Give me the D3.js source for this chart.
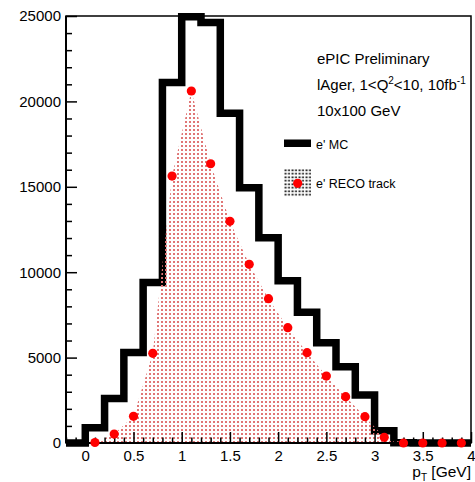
<!DOCTYPE html>
<html>
<head>
<meta charset="utf-8">
<script src="https://cdn.jsdelivr.net/npm/d3@7"></script>
<style>
  html, body { margin: 0; padding: 0; background: #fff; }
  svg { display: block; font-family: "Liberation Sans", Arial, Helvetica, sans-serif; }
</style>
</head>
<body>
<svg id="chart" width="475" height="482"></svg>
<script>
// ---- data ----
const binEdges = [-0.2, 0.0, 0.2, 0.4, 0.6, 0.8, 1.0, 1.2, 1.4, 1.6, 1.8, 2.0, 2.2, 2.4, 2.6, 2.8, 3.0, 3.2, 3.4, 3.6, 3.8, 4.0];
const mcValues = [0, 900, 2600, 5300, 9400, 21100, 24950, 24620, 19300, 14950, 12020, 9500, 7650, 5870, 4470, 2810, 720, 20, 0, 0, 0];
const recoX = [0.1, 0.3, 0.5, 0.7, 0.9, 1.1, 1.3, 1.5, 1.7, 1.9, 2.1, 2.3, 2.5, 2.7, 2.9, 3.1, 3.3, 3.5, 3.7, 3.9];
const recoValues = [30, 520, 1560, 5250, 15630, 20610, 16350, 12980, 10460, 8450, 6750, 5290, 3920, 2710, 1540, 330, 0, 0, 0, 0];
const yMajorTicks = [0, 5000, 10000, 15000, 20000, 25000];
const xMajorTicks = [0, 0.5, 1, 1.5, 2, 2.5, 3, 3.5, 4];
const xTickLabels = ["0", "0.5", "1", "1.5", "2", "2.5", "3", "3.5", "4"];
const legendLabels = ["e' MC", "e' RECO track"];

// ---- layout ----
const svg = d3.select("#chart");
const L = 66, R = 471, T = 16, B = 443;
const x = d3.scaleLinear().domain([-0.2, 4]).range([L, R]);
const y = d3.scaleLinear().domain([0, 25000]).range([B, T]);

// patterns
const defs = svg.append("defs");
const pr = defs.append("pattern").attr("id", "redDots").attr("patternUnits", "userSpaceOnUse")
  .attr("width", 4).attr("height", 4);
pr.append("rect").attr("x", 1).attr("y", 1).attr("width", 2).attr("height", 2)
  .attr("fill", "rgb(224,118,118)").attr("shape-rendering", "crispEdges");
const pb = defs.append("pattern").attr("id", "blackDots").attr("patternUnits", "userSpaceOnUse")
  .attr("width", 3.5).attr("height", 3.5).attr("x", 284).attr("y", 169);
pb.append("rect").attr("x", 0.5).attr("y", 0.5).attr("width", 2).attr("height", 1.5).attr("fill", "#000");

// MC histogram (step outline)
const mcPts = [[binEdges[0], 0]];
mcValues.forEach((v, i) => { mcPts.push([binEdges[i], v]); mcPts.push([binEdges[i + 1], v]); });
mcPts.push([binEdges[binEdges.length - 1], 0]);
svg.append("path")
  .attr("d", d3.line().x(d => x(d[0])).y(d => y(d[1]))(mcPts))
  .attr("fill", "none").attr("stroke", "#000").attr("stroke-width", 7.5).attr("stroke-linejoin", "miter");

// RECO fill area
const recoPts = recoX.map((v, i) => [v, recoValues[i]]);
svg.append("path")
  .attr("d", d3.area().x(d => x(d[0])).y0(y(0)).y1(d => y(d[1]))(recoPts))
  .attr("fill", "url(#redDots)");

// frame
svg.append("rect").attr("x", L).attr("y", T).attr("width", R - L).attr("height", B - T)
  .attr("fill", "none").attr("stroke", "#000").attr("stroke-width", 1.5);
svg.append("line").attr("x1", L).attr("x2", L).attr("y1", T).attr("y2", B).attr("stroke", "#000").attr("stroke-width", 2);
svg.append("line").attr("x1", L).attr("x2", R).attr("y1", B).attr("y2", B).attr("stroke", "#000").attr("stroke-width", 2);

// y axis
const yMinor = d3.range(0, 25001, 1000).filter(v => v % 5000 !== 0);
const yAx = svg.append("g").attr("transform", `translate(${L},0)`)
  .call(d3.axisLeft(y).tickValues(yMajorTicks).tickFormat(d3.format("d")).tickSize(-11).tickPadding(5));
const yMin = svg.append("g").attr("transform", `translate(${L},0)`)
  .call(d3.axisLeft(y).tickValues(yMinor).tickFormat("").tickSize(-6));
// x axis
const xMinor = d3.range(-2, 41).map(v => v / 10).filter(v => Math.abs(v * 2 - Math.round(v * 2)) > 1e-6);
const xAx = svg.append("g").attr("transform", `translate(0,${B})`)
  .call(d3.axisBottom(x).tickValues(xMajorTicks).tickFormat((d, i) => xTickLabels[i]).tickSize(-11).tickPadding(7));
const xMin = svg.append("g").attr("transform", `translate(0,${B})`)
  .call(d3.axisBottom(x).tickValues(xMinor).tickFormat("").tickSize(-5.5));
[yAx, yMin, xAx, xMin].forEach(g => {
  g.select(".domain").remove();
  g.selectAll(".tick line").attr("stroke", "#000").attr("stroke-width", 1.5);
  g.selectAll(".tick text").attr("fill", "#000").style("font-size", "15px").style("font-family", "'Liberation Sans', Arial, sans-serif");
});

// RECO markers
svg.append("g").selectAll("circle").data(recoPts).join("circle")
  .attr("cx", d => x(d[0])).attr("cy", d => y(d[1])).attr("r", 4.6).attr("fill", "#ff0000");

// axis title
const xt = svg.append("text").attr("x", R).attr("y", 477).attr("text-anchor", "end")
  .style("font-size", "15.5px").attr("fill", "#000");
xt.append("tspan").text("p");
xt.append("tspan").attr("dy", 3.5).style("font-size", "10px").text("T");
xt.append("tspan").attr("dy", -3.5).text(" [GeV]");

// annotation texts
svg.append("text").attr("x", 317).attr("y", 63.5).style("font-size", "15px").text("ePIC Preliminary");
const t2 = svg.append("text").attr("x", 317).attr("y", 90).style("font-size", "15px");
t2.append("tspan").text("lAger, 1<Q");
t2.append("tspan").attr("dy", -6).style("font-size", "10px").text("2");
t2.append("tspan").attr("dy", 6).text("<10, 10fb");
t2.append("tspan").attr("dy", -6).style("font-size", "10px").text("-1");
svg.append("text").attr("x", 317).attr("y", 115.5).style("font-size", "15px").text("10x100 GeV");

// legend
svg.append("rect").attr("x", 284).attr("y", 139.5).attr("width", 27).attr("height", 7.5).attr("fill", "#000");
svg.append("text").attr("x", 316).attr("y", 149).style("font-size", "12.5px").text(legendLabels[0]);
svg.append("rect").attr("x", 284).attr("y", 169).attr("width", 27).attr("height", 28).attr("fill", "url(#blackDots)");
svg.append("circle").attr("cx", 297.7).attr("cy", 183.3).attr("r", 4.6).attr("fill", "#ff0000");
svg.append("text").attr("x", 316).attr("y", 188).style("font-size", "12.5px").text(legendLabels[1]);
</script>
</body>
</html>
